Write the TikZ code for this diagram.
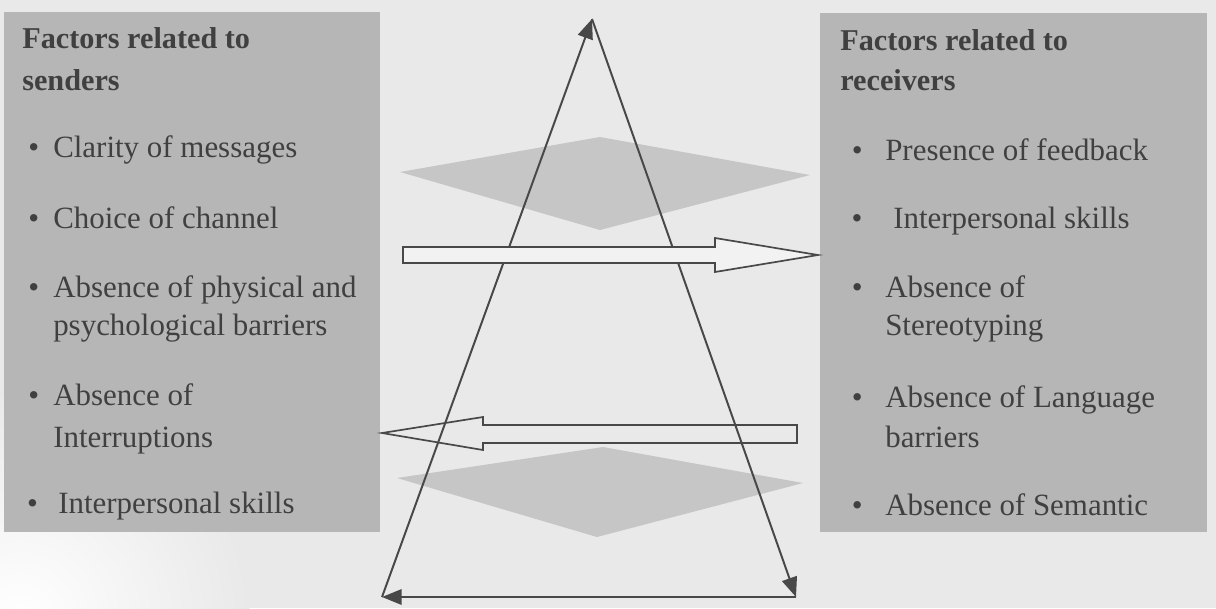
\documentclass[tikz,border=0pt]{standalone}
\usepackage{fontspec}
\setmainfont{Liberation Serif}
\usepackage{tikz}
\usetikzlibrary{arrows.meta,positioning}
\definecolor{bgcol}{RGB}{233,233,233}
\definecolor{boxcol}{RGB}{182,182,182}
\definecolor{diacol}{RGB}{198,198,198}
\definecolor{txtcol}{RGB}{64,64,64}
\definecolor{lncol}{RGB}{72,72,72}
\newcommand\bul[1]{\llap{\textbullet\hspace{#1}}}
\tikzset{
  factbox/.style={fill=boxcol, draw=none, inner sep=0pt, anchor=north west},
  ttl/.style={anchor=base west, inner sep=0pt, text=txtcol,
    font=\fontsize{21.5}{25}\selectfont\bfseries},
  itm/.style={anchor=base west, inner sep=0pt, text=txtcol,
    font=\fontsize{22}{26}\selectfont},
  cyc/.style={-{Triangle[length=14pt,width=11pt]}, draw=lncol, fill=lncol,
    line width=1.4pt},
  blockarr/.style={draw=lncol, line width=1.2pt, line join=miter},
}
\begin{document}
\begin{tikzpicture}[x=0.025cm, y=-0.025cm]
  \useasboundingbox (0,0) rectangle (1216,608);
  % background
  \fill[bgcol] (0,0) rectangle (1216,608);
  \begin{scope}
    \clip (0,0) rectangle (1216,608);
    \shade[inner color=white, outer color=bgcol] (20,620) circle (230);
  \end{scope}

  % the two factor boxes
  \node[factbox, minimum width=9.4cm, minimum height=13cm] (sendbox) at (4,12) {};
  \node[factbox, minimum width=9.675cm, minimum height=12.975cm] (recvbox) at (820,13) {};

  % left box texts
  \node[ttl] (s-t1) at (22,48) {Factors related to};
  \node[ttl] (s-t2) at (22,90) {senders};
  \node[itm] (s1) at (53,157) {\bul{10pt}Clarity of messages};
  \node[itm] (s2) at (53,228) {\bul{10pt}Choice of channel};
  \node[itm] (s3) at (53,297) {\bul{10pt}Absence of physical and};
  \node[itm] (s3b) at (53,335) {psychological barriers};
  \node[itm] (s4) at (53,405) {\bul{10pt}Absence of};
  \node[itm] (s4b) at (53,447) {Interruptions};
  \node[itm] (s5) at (58,513) {\bul{14.5pt}Interpersonal skills};

  % right box texts
  \node[ttl] (r-t1) at (840,50) {Factors related to};
  \node[ttl] (r-t2) at (840,90) {receivers};
  \node[itm] (r1) at (885,160) {\bul{16pt}Presence of feedback};
  \node[itm] (r2) at (893,228) {\bul{22pt}Interpersonal skills};
  \node[itm] (r3) at (885,297) {\bul{16pt}Absence of};
  \node[itm] (r3b) at (885,335) {Stereotyping};
  \node[itm] (r4) at (885,407) {\bul{16pt}Absence of Language};
  \node[itm] (r4b) at (885,447) {barriers};
  \node[itm] (r5) at (885,515) {\bul{16pt}Absence of Semantic};

  % faint diamonds
  \fill[diacol] (400,172) -- (600,137) -- (810,175) -- (600,230) -- cycle;
  \fill[diacol] (397,478) -- (603,447) -- (803,483) -- (597,537) -- cycle;

  % lower block arrow (towards senders)
  \coordinate (lo-tip) at (382,433);
  \draw[blockarr, fill=bgcol] (797,425) -- (483,425) -- (483,417) -- (lo-tip)
    -- (483,450) -- (483,443) -- (797,443) -- cycle;

  % the cycle triangle
  \coordinate (apex) at (592,19);
  \coordinate (bl) at (382,597);
  \coordinate (br) at (796,597);
  \draw[cyc] (bl) -- (apex);
  \draw[cyc] (apex) -- (br);
  \draw[cyc] (br) -- (bl);

  % upper block arrow (towards receivers)
  \coordinate (up-tip) at (818,255);
  \draw[blockarr, fill=bgcol!60!white] (403,247) -- (715,247) -- (715,238) -- (up-tip)
    -- (715,272) -- (715,263) -- (403,263) -- cycle;
\end{tikzpicture}
\end{document}
